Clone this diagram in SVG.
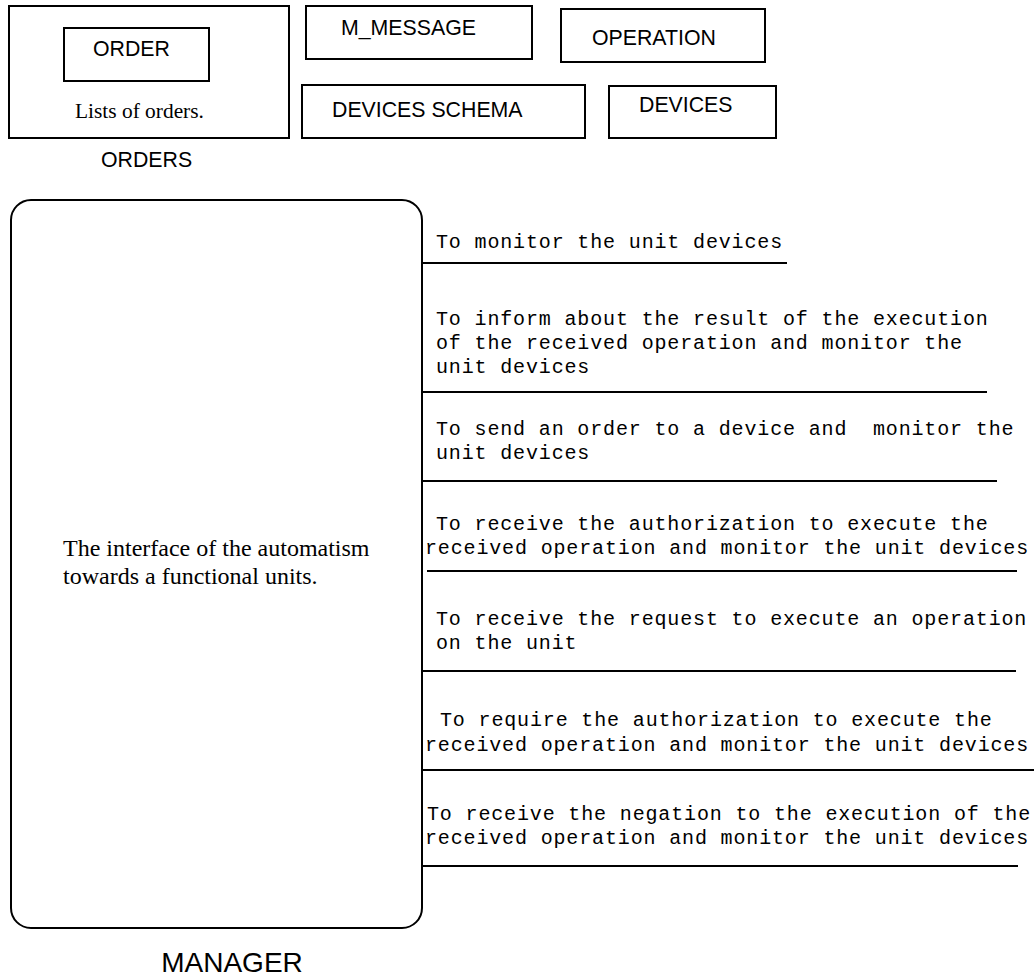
<svg xmlns="http://www.w3.org/2000/svg" width="1034" height="979" viewBox="0 0 1034 979">
<style>
.box{fill:#fff;stroke:#000;stroke-width:2}
.sans{font-family:Arial,"Liberation Sans",sans-serif;font-size:21.3px;fill:#000}
.big{font-size:28px}
.serif{font-family:"Times New Roman","Liberation Serif",serif;fill:#000}
.mono{font-family:"Courier New","Liberation Mono",monospace;font-size:20px;letter-spacing:0.85px;fill:#000;white-space:pre}
.conn{stroke:#000;stroke-width:2;fill:none}
</style>
<rect width="1034" height="979" fill="#fff"/>
<g id="orders">
<rect class="box" x="9" y="6" width="280" height="132"/>
<text class="serif" x="75" y="118" font-size="21.4">Lists of orders.</text>
<text class="sans" x="101" y="167">ORDERS</text>
</g>
<g id="order">
<rect class="box" x="64" y="28" width="145" height="53"/>
<text class="sans" x="93" y="56">ORDER</text>
</g>
<g id="m_message">
<rect class="box" x="306" y="6" width="226" height="53"/>
<text class="sans" x="341" y="35">M_MESSAGE</text>
</g>
<g id="operation">
<rect class="box" x="561" y="9" width="204" height="53"/>
<text class="sans" x="592" y="45">OPERATION</text>
</g>
<g id="devices_schema">
<rect class="box" x="302" y="85" width="283" height="53"/>
<text class="sans" x="332" y="117">DEVICES SCHEMA</text>
</g>
<g id="devices">
<rect class="box" x="609" y="86" width="167" height="52"/>
<text class="sans" x="639" y="112">DEVICES</text>
</g>
<g id="manager">
<rect class="box" x="11" y="200" width="411" height="728" rx="20" ry="20"/>
<text class="serif" font-size="24"><tspan x="63" y="556">The interface of the automatism</tspan><tspan x="63" y="584">towards a functional units.</tspan></text>
<text class="sans big" x="232" y="972" text-anchor="middle">MANAGER</text>
</g>
<g id="connectors">
<line class="conn" x1="422" y1="263" x2="787" y2="263"/>
<line class="conn" x1="422" y1="392" x2="987" y2="392"/>
<line class="conn" x1="422" y1="481" x2="997" y2="481"/>
<line class="conn" x1="427" y1="571" x2="1017" y2="571"/>
<line class="conn" x1="422" y1="671" x2="1016" y2="671"/>
<line class="conn" x1="422" y1="770" x2="1034" y2="770"/>
<line class="conn" x1="422" y1="866" x2="1018" y2="866"/>
</g>
<g id="connector-labels">
<text class="mono" x="436" y="248">To monitor the unit devices</text>
<text class="mono"><tspan x="436" y="325">To inform about the result of the execution</tspan><tspan x="436" y="349">of the received operation and monitor the</tspan><tspan x="436" y="373">unit devices</tspan></text>
<text class="mono"><tspan x="436" y="435">To send an order to a device and  monitor the</tspan><tspan x="436" y="459">unit devices</tspan></text>
<text class="mono"><tspan x="436" y="530">To receive the authorization to execute the</tspan><tspan x="425" y="554">received operation and monitor the unit devices</tspan></text>
<text class="mono"><tspan x="436" y="625">To receive the request to execute an operation</tspan><tspan x="436" y="649">on the unit</tspan></text>
<text class="mono"><tspan x="440" y="726">To require the authorization to execute the</tspan><tspan x="425" y="751">received operation and monitor the unit devices</tspan></text>
<text class="mono"><tspan x="427" y="820">To receive the negation to the execution of the</tspan><tspan x="425" y="844">received operation and monitor the unit devices</tspan></text>
</g>
</svg>
